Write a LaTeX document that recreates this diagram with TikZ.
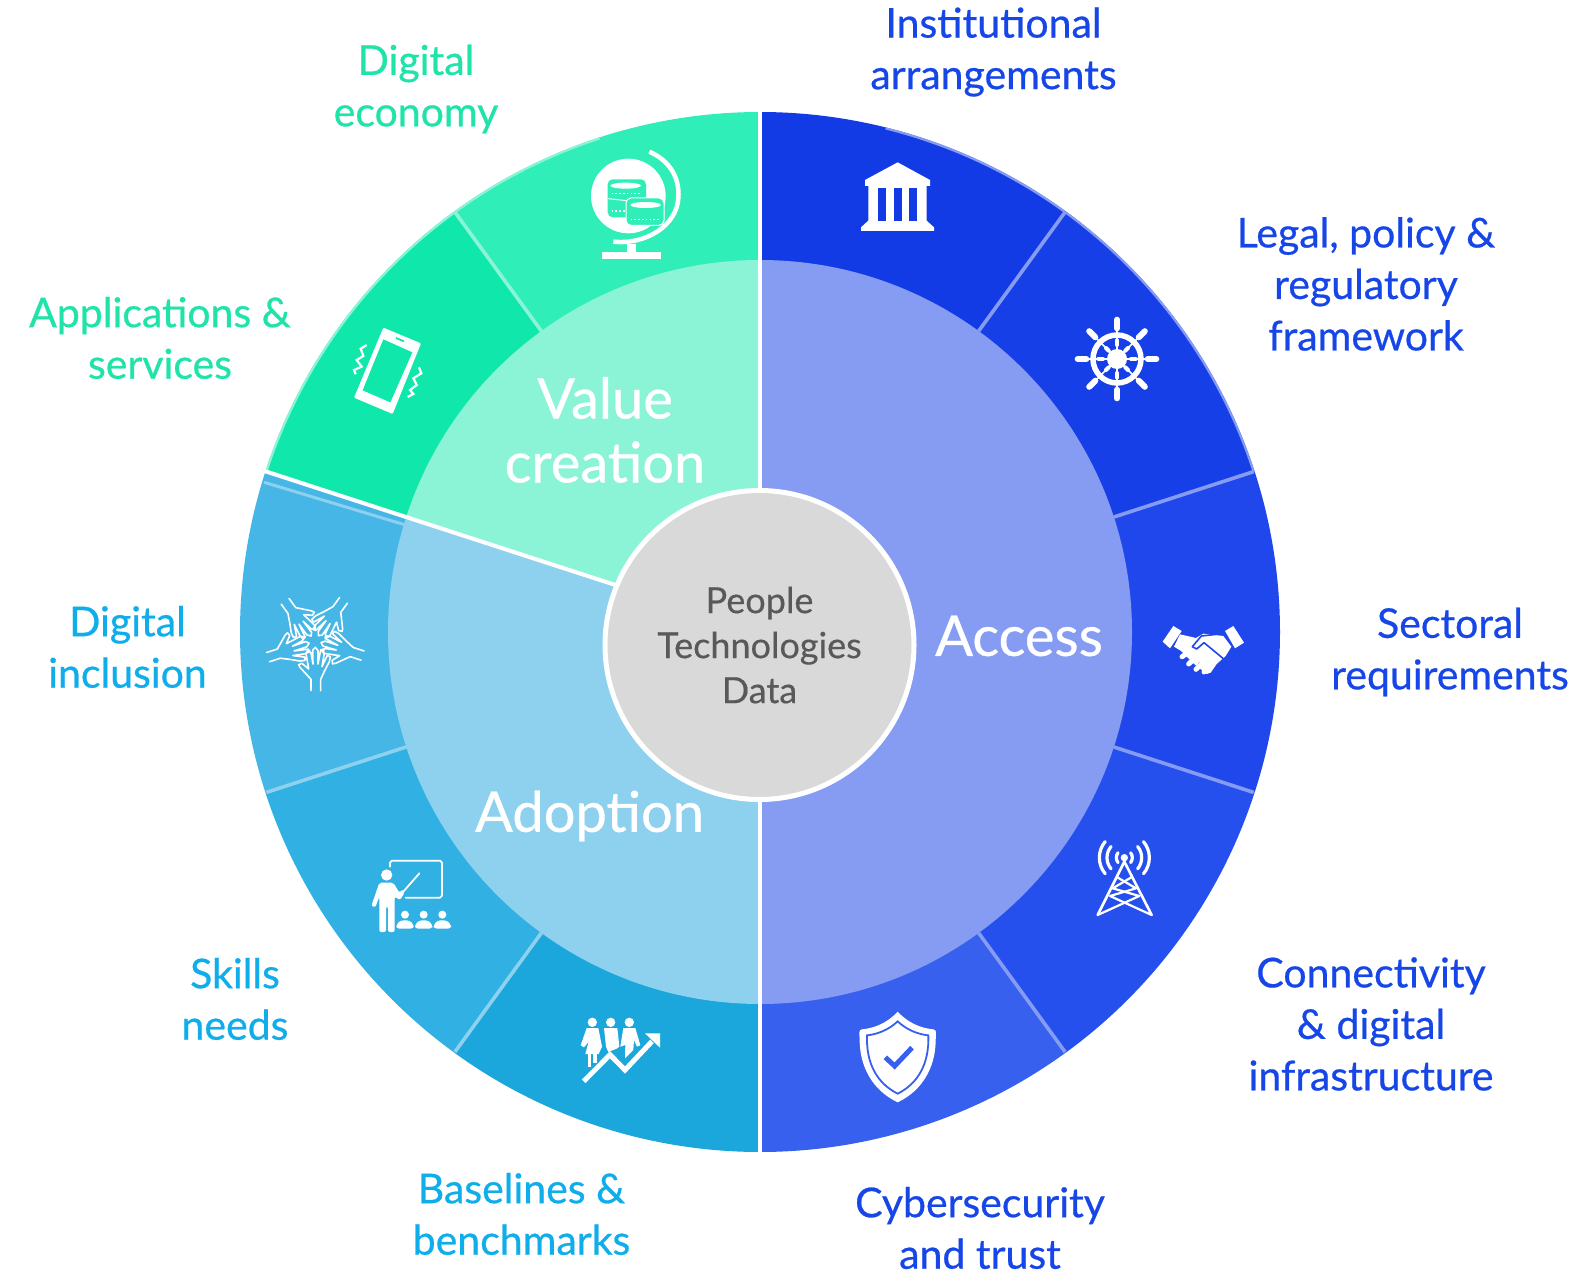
\documentclass[tikz,border=0pt]{standalone}
\usepackage{fontspec}
\setmainfont{Lato}
\newfontfamily\labfont[FakeBold=0.6]{Lato}
\newfontfamily\hubfont[FakeBold=0.4]{Lato}
\definecolor{accL}{HTML}{869CF2}
\definecolor{valL}{HTML}{8BF4D6}
\definecolor{adoL}{HTML}{8DD1EE}
\definecolor{acA}{HTML}{123BE6}
\definecolor{acB}{HTML}{163FE8}
\definecolor{acC}{HTML}{2047EC}
\definecolor{acD}{HTML}{2650EE}
\definecolor{acE}{HTML}{3860EE}
\definecolor{vaA}{HTML}{2FEEB8}
\definecolor{vaB}{HTML}{10E8AB}
\definecolor{adA}{HTML}{45B6E5}
\definecolor{adB}{HTML}{30B0E3}
\definecolor{adC}{HTML}{1BA6DC}
\definecolor{txB}{HTML}{1746E8}
\definecolor{txG}{HTML}{1FE3A9}
\definecolor{txC}{HTML}{0FAEEB}
\definecolor{hubG}{HTML}{D9D9D9}
\definecolor{hubT}{HTML}{595959}
\tikzset{
 lab/.style={align=center,inner sep=0pt,font=\labfont\fontsize{41}{51.5}\selectfont},
 labB/.style={lab,text=txB},
 labG/.style={lab,text=txG},
 labC/.style={lab,text=txC},
 ringlab/.style={align=center,inner sep=0pt,text=white,font=\labfont\fontsize{56}{64}\selectfont},
 ico/.style={line join=round,line cap=round},
 wl/.style={draw=white,ico},
}
\newcommand{\wdg}[4]{\fill[#4] (0,0) -- (#1:#3) arc[start angle=#1,end angle=#2,radius=#3] -- cycle;}
\newcommand{\rim}[3]{\draw[#3,line width=2.2pt] (#1:519) arc[start angle=#1,end angle=#2,radius=519];}
\newcommand{\dvd}[2]{\draw[#2,line width=3.6pt] (#1:372) -- (#1:519);}
\begin{document}
\begin{tikzpicture}[x=1pt,y=-1pt]
\useasboundingbox (0,0) rectangle (1588,1271);
\begin{scope}[shift={(760,632)},y=1pt]
 \wdg{54}{90}{520}{acA}
 \wdg{18}{54}{520}{acB}
 \wdg{-18}{18}{520}{acC}
 \wdg{-54}{-18}{520}{acD}
 \wdg{-90}{-54}{520}{acE}
 \wdg{90}{126}{520}{vaA}
 \wdg{126}{162}{520}{vaB}
 \wdg{162}{198}{520}{adA}
 \wdg{198}{234}{520}{adB}
 \wdg{234}{270}{520}{adC}
 \rim{18}{54}{accL}
 \rim{54}{76}{accL}
 \rim{108}{126}{valL}
 \rim{126}{162}{valL}
 \wdg{-90}{90}{372}{accL}
 \wdg{90}{162}{372}{valL}
 \wdg{162}{270}{372}{adoL}
 \dvd{54}{accL}\dvd{18}{accL}\dvd{-18}{accL}\dvd{-54}{accL}
 \dvd{126}{valL}\dvd{198}{adoL}\dvd{234}{adoL}
 \draw[adoL,line width=3pt] (163.2:372) -- (163.2:518);
 \draw[white,line width=4pt] (0,-522) -- (0,522);
 \draw[white,line width=4pt] (0,0) -- (162:522);
\end{scope}
\node[circle,fill=hubG,draw=white,line width=5pt,minimum size=309pt,inner sep=0pt,align=center,text=hubT,
 font=\hubfont\fontsize{36}{45}\selectfont] (core) at (759.5,645) {People\\Technologies\\Data};
% ring titles
\node[ringlab] (value) at (605,430) {Value\\creation};
\node[ringlab] (access) at (1019,636) {Access};
\node[ringlab] (adoption) at (589.5,816) {Adoption};
% outer labels
\node[labG] (l1) at (416,89) {Digital\\economy};
\node[labB] (l2) at (993.5,52) {Institutional\\arrangements};
\node[labB] (l3) at (1366,284) {Legal, policy \&\\regulatory\\framework};
\node[labB] (l4) at (1450,652) {Sectoral\\requirements};
\node[labB] (l5) at (1371,1024) {Connectivity\\\& digital\\infrastructure};
\node[labB] (l6) at (980,1228) {Cybersecurity\\and trust};
\node[labC] (l7) at (521.5,1214) {Baselines \&\\benchmarks};
\node[labC] (l8) at (235,999) {Skills\\needs};
\node[labC] (l9) at (127.5,647) {Digital\\inclusion};
\node[labG] (l10) at (160,338) {Applications \&\\services};
% globe and coins
\begin{scope}[shift={(560,130)},scale=1/3]
 \fill[white] (205,198) circle[radius=112];
 \draw[white,line width=4.5pt] (268,65) .. controls (330,92) and (360,145) .. (355,205) .. controls (350,285) and (260,345) .. (160,335);
 \fill[white] (200,342) rectangle (228,366);
 \fill[white] (125,365) rectangle (303,388);
 \fill[vaA,rounded corners=5pt] (143,148) rectangle (258,262);
 \fill[white] (197,167) ellipse[x radius=46,y radius=9];
 \draw[white,line width=1.6pt,dash pattern=on 1.6pt off 2.2pt] (155,190) -- (245,190);
 \draw[white,line width=1.6pt,dash pattern=on 1.6pt off 2.2pt] (155,243) -- (200,243);
 \draw[white,line width=1pt] (145,206) -- (200,212);
 \filldraw[fill=vaA,draw=white,line width=1pt,rounded corners=5pt] (198,204) rectangle (312,286);
 \fill[white] (257,225) ellipse[x radius=46,y radius=9];
 \draw[white,line width=1.6pt,dash pattern=on 1.6pt off 2.2pt] (212,268) -- (300,268);
\end{scope}
% bank
\begin{scope}[shift={(560,130)},scale=1/3]
 \fill[white] (1013,97) -- (1110,150) -- (1110,168) -- (1100,168) -- (1100,272) -- (1122,292) -- (1122,303) -- (903,303) -- (903,292) -- (925,272) -- (925,168) -- (915,168) -- (915,150) -- cycle;
 \fill[acA] (955,173) rectangle (978,272);
 \fill[acA] (1002,173) rectangle (1025,272);
 \fill[acA] (1048,173) rectangle (1071,272);
\end{scope}
% phone
\begin{scope}[shift={(250,310)},scale=1/3]
 \fill[white,rounded corners=1pt] (400,53) -- (513,100) -- (428,312) -- (312,263) -- cycle;
 \fill[vaB] (400,88) -- (487,127) -- (421,277) -- (338,241) -- cycle;
 \draw[vaB,line width=1.8pt] (438,84) -- (462,94);
 \draw[white,line width=2.2pt,line join=miter] (350,105) -- (332,116) -- (340,138) -- (320,150) -- (335,170) -- (312,180) -- (317,193);
 \draw[white,line width=2.2pt,line join=miter] (507,172) -- (514,190) -- (490,205) -- (500,225) -- (480,240) -- (490,252) -- (473,261);
\end{scope}
% hands
\begin{scope}[shift={(250,310)},scale=1/3]
 \foreach \r in {0,72,144,216,288}{
  \draw[wl,line width=1.6pt,rotate around={\r:(195,993)}]
   (183,1142) -- (183,1108) -- (150,1072) -- (146,1064) -- (156,1060) -- (176,1077) -- (168,1030) -- (175,1018) -- (183,1030) -- (189,1062)
   (189,1062) -- (188,1020) -- (196,1012) -- (204,1022) -- (204,1062)
   (204,1062) -- (212,1020) -- (221,1020) -- (222,1035) -- (216,1070)
   (216,1070) -- (232,1036) -- (241,1040) -- (238,1055) -- (224,1082) -- (212,1108) -- (212,1142);
 }
\end{scope}
% helm
\begin{scope}[shift={(1060,300)},scale=1/3]
 \draw[white,line width=5.5pt] (171,177) circle[radius=72];
 \fill[white] (171,177) circle[radius=30];
 \foreach \a in {0,45,...,315}{
  \draw[wl,line width=1.6pt] (\a:0) ++(171,177) -- ++(\a:100);
 }
 \foreach \a in {0,90,180,270}{
  \draw[wl,line width=6pt] (171,177) ++(\a:92) -- ++(\a:26);
  \draw[wl,line width=4pt] (171,177) ++(\a:42) -- ++(\a:14);
 }
 \foreach \a in {45,135,225,315}{
  \draw[wl,line width=6pt] (171,177) ++(\a:92) -- ++(\a:26);
  \draw[wl,line width=4pt] (171,177) ++(\a:35) -- ++(\a:12);
 }
\end{scope}
% handshake
\begin{scope}[shift={(1060,300)},scale=1/3]
 \fill[white] (340,978) -- (365,993) -- (330,1045) -- (308,1025) -- cycle;
 \fill[white] (520,978) -- (552,1028) -- (525,1045) -- (495,993) -- cycle;
 \fill[white] (360,1003) -- (408,1014) -- (430,1001) -- (490,1008) -- (514,1040) -- (497,1068) -- (470,1092) -- (452,1118) -- (440,1122) -- (400,1090) -- (362,1052) -- (342,1040) -- cycle;
 \draw[acC,line width=1.6pt,line join=round] (490,1076) -- (432,1028) -- (410,1047) -- (397,1040) -- (424,1008) -- (470,1003);
 \draw[acC,line width=1.4pt] (352,1052) -- (392,1106) -- (440,1130);
 \draw[acC,line width=1.2pt] (378,1060) -- (360,1078);
 \draw[acC,line width=1.2pt] (400,1072) -- (380,1096);
 \draw[acC,line width=1.2pt] (420,1088) -- (402,1110);
 \draw[wl,line width=5pt] (366,1070) -- (384,1058);
 \draw[wl,line width=5pt] (386,1092) -- (405,1074);
 \draw[wl,line width=5pt] (408,1108) -- (425,1092);
 \draw[wl,line width=5pt] (432,1116) -- (443,1102);
\end{scope}
% tower
\begin{scope}[shift={(1060,820)},scale=1/3]
 \fill[white] (193,113) circle[radius=11];
 \draw[wl,line width=2.6pt] (193,125) -- (113,285);
 \draw[wl,line width=2.6pt] (193,125) -- (275,285);
 \draw[wl,line width=2.2pt] (172,172) -- (228,205) -- (150,228) -- (275,285);
 \draw[wl,line width=2.2pt] (214,172) -- (158,205) -- (238,228) -- (113,285);
 \foreach \s/\rr/\an in {1/24/38,1/52/40,1/75/40}{
  \draw[wl,line width=3.2pt] (193,113) ++(\an:\rr) arc[start angle=\an,end angle=-\an,radius=\rr];
  \draw[wl,line width=3.2pt] (193,113) ++(180+\an:\rr) arc[start angle=180+\an,end angle=180-\an,radius=\rr];
 }
\end{scope}
% shield
\begin{scope}[shift={(840,1000)},scale=1/3]
 \fill[white] (173,35) .. controls (205,70) and (245,85) .. (280,88) .. controls (292,90) and (287,100) .. (287,125) .. controls (285,200) and (250,270) .. (173,307) .. controls (96,270) and (61,200) .. (59,125) .. controls (59,100) and (54,90) .. (66,88) .. controls (101,85) and (141,70) .. (173,35) -- cycle;
 \draw[acE,line width=1.8pt] (173,64) .. controls (200,90) and (235,103) .. (265,106) .. controls (268,190) and (235,250) .. (173,281) .. controls (111,250) and (78,190) .. (81,106) .. controls (111,103) and (146,90) .. (173,64) -- cycle;
 \draw[acE,line width=5pt,line join=miter] (136,172) -- (164,198) -- (216,143);
\end{scope}
% teacher
\begin{scope}[shift={(360,850)},scale=1/3]
 \fill[white] (80,75) circle[radius=17];
 \fill[white,rounded corners=2pt] (58,98) -- (100,98) -- (118,128) -- (128,118) -- (134,128) -- (120,150) -- (104,140) -- (104,246) -- (84,246) -- (84,170) -- (78,170) -- (78,246) -- (58,246) -- (58,140) -- (46,172) -- (34,168) -- cycle;
 \draw[wl,line width=1.8pt] (122,134) -- (178,70);
 \draw[wl,line width=1.8pt] (90,50) -- (90,38) -- (96,32) -- (240,32) -- (246,38) -- (246,137) -- (240,143) -- (137,143);
 \foreach \x in {135,191,247}{
  \fill[white] (\x,194) circle[radius=12];
  \fill[white,rounded corners=3pt] (\x-26,236) -- (\x-26,224) -- (\x-14,211) -- (\x+14,211) -- (\x+26,224) -- (\x+26,236) -- cycle;
 }
\end{scope}
% people and growth arrow
\begin{scope}[shift={(360,850)},scale=1/3]
 \foreach \x in {697,752,808}{\fill[white] (\x,517) circle[radius=14];}
 \fill[white] (680,534) -- (715,534) -- (726,590) -- (716,612) -- (676,612) -- (686,575) -- (672,592) -- (662,586) -- cycle;
 \fill[white] (684,612) rectangle (694,652);
 \fill[white] (700,612) rectangle (710,640);
 \fill[white] (732,534) -- (772,534) -- (778,590) -- (770,596) -- (745,606) -- (738,590) -- cycle;
 \fill[white] (790,534) -- (826,534) -- (841,586) -- (831,590) -- (822,570) -- (820,600) -- (795,625) -- (796,585) -- (781,590) -- cycle;
 \draw[white,line width=5pt,line join=miter] (671,694) -- (750,614) -- (795,660) -- (876,574);
 \fill[white] (855,550) -- (900,550) -- (900,593) -- cycle;
\end{scope}
\end{tikzpicture}
\end{document}
